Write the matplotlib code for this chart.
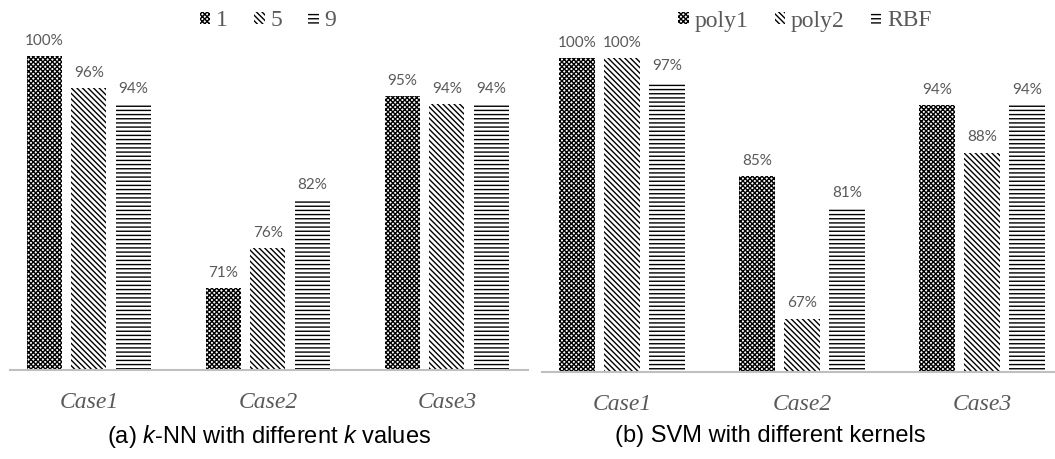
import matplotlib
matplotlib.use("Agg")
import matplotlib.pyplot as plt
import numpy as np

# ---- data ----
cases = ["Case1", "Case2", "Case3"]
knn_labels = ["1", "5", "9"]
knn_values = [[100, 71, 95],   # k=1
              [96, 76, 94],    # k=5
              [94, 82, 94]]    # k=9
svm_labels = ["poly1", "poly2", "RBF"]
svm_values = [[100, 85, 94],   # poly1
              [100, 67, 88],   # poly2
              [97, 81, 94]]    # RBF
hatches = ["xxxxxxx", "\\" * 6, "----"]

plt.rcParams["hatch.linewidth"] = 1.0
plt.rcParams["mathtext.fontset"] = "custom"
plt.rcParams["mathtext.it"] = "Liberation Sans:italic"
plt.rcParams["mathtext.rm"] = "Liberation Sans"

W, H = 1055, 459
fig = plt.figure(figsize=(W / 100, H / 100), dpi=100)

gray = "#595959"


def panel(rect, values, labels, xlim, ylim, width, off, leg_center, caption, cap_x):
    ax = fig.add_axes(rect)
    x = np.arange(len(cases))
    for i, (vals, lab, h) in enumerate(zip(values, labels, hatches)):
        bars = ax.bar(x + (i - 1) * off, vals, width, color="white",
                      edgecolor="black", linewidth=0, hatch=h, label=lab)
        for b, v in zip(bars, vals):
            ax.annotate(f"{v}%", (b.get_x() + b.get_width() / 2, v),
                        xytext=(0, 6), textcoords="offset points",
                        ha="center", va="bottom", fontsize=11,
                        family="Lato", color=gray)
    ax.set_xlim(*xlim)
    ax.set_ylim(*ylim)
    ax.set_xticks(x)
    ax.set_xticklabels(cases, family="Liberation Serif", style="italic",
                       fontsize=17, color=gray)
    ax.tick_params(axis="x", length=0, pad=16)
    ax.set_yticks([])
    for s in ["top", "left", "right"]:
        ax.spines[s].set_visible(False)
    ax.spines["bottom"].set_color("#bfbfbf")
    ax.spines["bottom"].set_linewidth(1.5)
    leg = fig.legend(*ax.get_legend_handles_labels(), loc="center",
                     bbox_to_anchor=(leg_center[0] / W, 1 - leg_center[1] / H),
                     ncol=3, frameon=False, handlelength=0.45, handleheight=0.45,
                     handletextpad=0.25, columnspacing=1.1,
                     prop={"family": "Liberation Serif", "size": 17})
    for t in leg.get_texts():
        t.set_color(gray)
    fig.text(cap_x / W, 1 - 436 / H, caption, ha="center", va="center",
             fontsize=17, family="Liberation Sans", color="black")
    return ax


# left panel
panel([10 / W, 89 / H, 518 / W, 370 / H], knn_values, knn_labels,
      (-0.441, 2.453), (60.75, 107.0), 0.196, 0.249, (268, 21),
      "(a) $k$-NN with different $k$ values", 269)
# right panel
panel([542 / W, 87 / H, 513 / W, 372 / H], svm_values, svm_labels,
      (-0.444, 2.406), (60.25, 107.34), 0.2, 0.25, (805, 21),
      "(b) SVM with different kernels", 770)

fig.savefig("out.png", dpi=100)
